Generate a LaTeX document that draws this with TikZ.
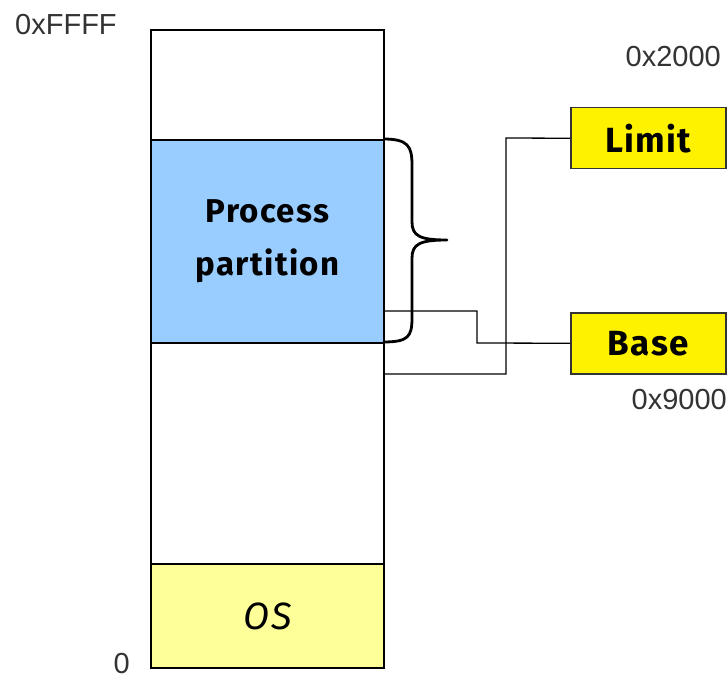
\documentclass[tikz,border=0pt]{standalone}
\usepackage{fontspec}
\setmainfont{Fira Sans}
\newfontfamily\comicfont[LetterSpace=4]{Fira Sans}
\newfontfamily\hexfont{Liberation Sans}
\begin{document}
\begin{tikzpicture}[x=1pt,y=-1pt,
  region/.style={draw=black,line width=2.2pt,minimum width=233pt,inner sep=0pt},
  regbox/.style={draw=black!80,line width=1.5pt,fill=yellow,minimum width=155pt,minimum height=61pt,inner sep=0pt,font=\comicfont\fontsize{35}{40}\selectfont\bfseries},
  hexlbl/.style={font=\hexfont\fontsize{29}{32}\selectfont,text=black!80,inner sep=0pt},
  wire/.style={line width=1.3pt,black}]
\useasboundingbox (0,0) rectangle (728,679);
% memory column
\node[region,minimum height=638pt,anchor=north west] (mem) at (150,29) {};
\node[region,fill={rgb,255:red,153;green,204;blue,255},minimum height=203pt,anchor=north west,align=center,font=\comicfont\fontsize{33}{53}\selectfont\bfseries] (proc) at (150,139) {Process\\partition};
\node[region,fill={rgb,255:red,255;green,255;blue,153},minimum height=104pt,anchor=north west,font=\comicfont\fontsize{38}{40}\selectfont\itshape] (os) at (150,563) {OS};
% registers
\node[regbox,anchor=north west] (limit) at (570,107) {Limit};
\node[regbox,anchor=north west] (base) at (570,312) {Base};
% labels
\node[hexlbl,anchor=west] (lffff) at (15,25) {0xFFFF};
\node[hexlbl,anchor=east] (l2000) at (721,57) {0x2000};
\node[hexlbl,anchor=east] (l9000) at (727,400) {0x9000};
\node[hexlbl,anchor=east] (lzero) at (130,664) {0};
% brace
\draw[line width=2.8pt,line join=round] (383,139) .. controls (408,139) and (412,146) .. (412,165) -- (412,222) .. controls (412,236) and (420,240) .. (447,240) .. controls (420,240) and (412,244) .. (412,258) -- (412,318) .. controls (412,337) and (408,342) .. (383,342);
% connectors
\coordinate (pbase) at (383,311);
\coordinate (plimit) at (383,374);
\draw[wire] (pbase) -- (477,311) -- (477,343) -- (base.west);
\draw[wire] (limit.west) -- (506,138) -- (506,374) -- (plimit);
\end{tikzpicture}
\end{document}
